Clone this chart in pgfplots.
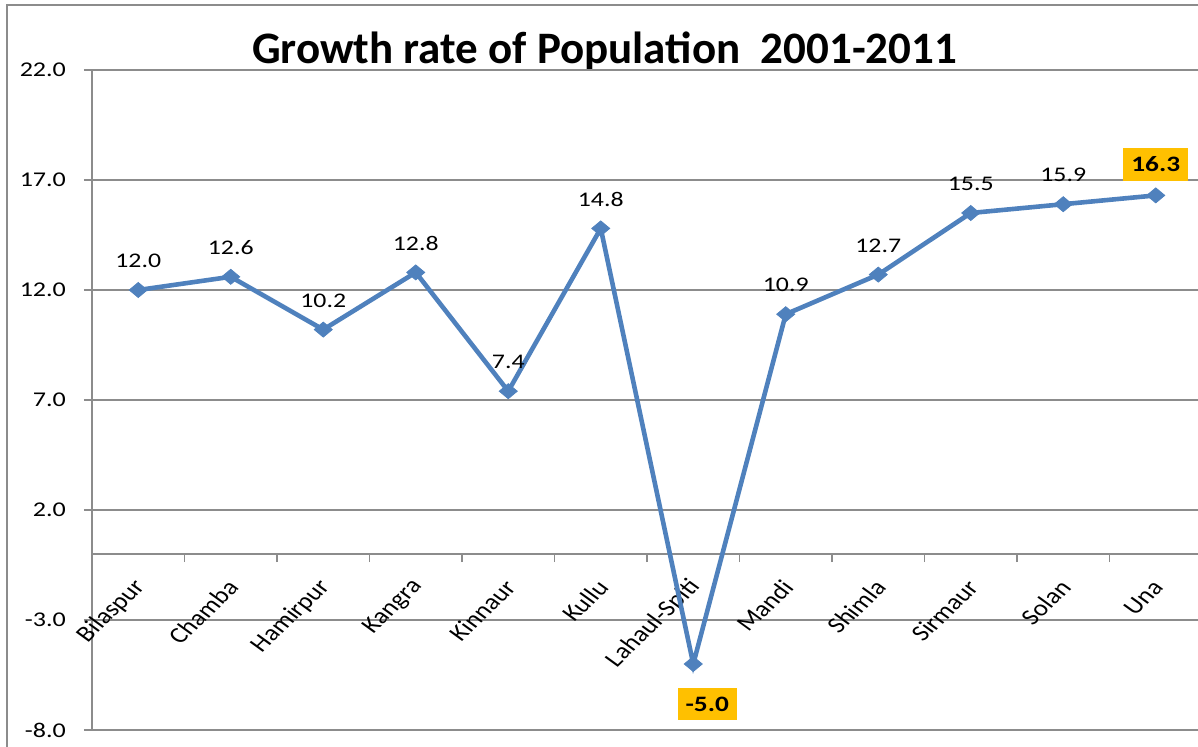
\documentclass[border=0pt]{standalone}
\usepackage{fontspec}
\usepackage{pgfplots}
\pgfplotsset{compat=1.18}
\usepackage{pgfplotstable}
\setmainfont{Carlito}
\newfontfamily\lblfont[FakeStretch=1.24]{Carlito}
\newfontfamily\catfont{Carlito}
\definecolor{lineblue}{HTML}{4F81BD}
\definecolor{boxorange}{HTML}{FFC000}
\definecolor{gridgray}{HTML}{8C8C8C}

% growth rate 2001-2011, districts in order
\pgfplotstableread{
x y
0 12.0
1 12.6
2 10.2
3 12.8
4 7.4
5 14.8
6 -5.0
7 10.9
8 12.7
9 15.5
10 15.9
11 16.3
}\growth

\begin{document}
\begin{tikzpicture}
\draw[gridgray, line width=1pt] (3.5pt,-5pt) -- (3.5pt,370.5pt) -- (605pt,370.5pt);
\node[font=\bfseries\fontsize{22.5}{26}\selectfont, anchor=base] at (302.25pt,341pt)
  {Growth rate of Population~~2001-2011};
\begin{axis}[
    at={(46pt,8pt)}, anchor=south west,
    scale only axis, width=555pt, height=330pt,
    xmin=-0.5, xmax=11.5, ymin=-8, ymax=22,
    axis x line*=middle, axis y line*=left,
    axis line style={gridgray, line width=0.75pt},
    xtick={0,...,11},
    xticklabels={Bilaspur,Chamba,Hamirpur,Kangra,Kinnaur,Kullu,Lahaul-Spiti,Mandi,Shimla,Sirmaur,Solan,Una},
    minor x tick num=1,
    major x tick style={draw=none},
    minor x tick style={gridgray, line width=0.75pt},
    ytick={-8,-3,...,22},
    ymajorgrids, grid style={gridgray, line width=0.75pt},
    tick align=outside,
    major tick length=4pt, minor tick length=4pt,
    y tick style={gridgray, line width=0.75pt},
    yticklabel style={font=\lblfont\fontsize{10.5}{12}\selectfont, xshift=-5.5pt,
      /pgf/number format/.cd, fixed, fixed zerofill, precision=1, assume math mode=true},
    xticklabel style={font=\catfont\fontsize{11.3}{12}\selectfont, inner sep=0pt,
      anchor=east, xshift=1.2pt, yshift=-10.5pt, xscale=1.2, rotate=49},
    clip=false,
]
\addplot[lineblue, line width=2.3pt, mark=diamond*, mark size=3.75pt,
  mark options={xscale=1.6, line width=0.4pt, fill=lineblue}] table {\growth};

\addplot[draw=none, nodes near coords={\pgfmathprintnumber[fixed,fixed zerofill,precision=1,assume math mode=true]{\pgfplotspointmeta}},
  nodes near coords style={font=\lblfont\fontsize{10.4}{12}\selectfont, anchor=center, yshift=14.5pt}]
  coordinates {(0,12.0)(1,12.6)(2,10.2)(3,12.8)(4,7.4)(5,14.8)(7,10.9)(8,12.7)(9,15.5)(10,15.9)};

\addplot[draw=none, nodes near coords={\pgfmathprintnumber[fixed,fixed zerofill,precision=1,assume math mode=true]{\pgfplotspointmeta}},
  nodes near coords style={font=\lblfont\bfseries\fontsize{11}{12}\selectfont, fill=boxorange,
    inner xsep=4pt, inner ysep=4.6pt, anchor=center, yshift=15.5pt}]
  coordinates {(11,16.3)};

\addplot[draw=none, nodes near coords={\pgfmathprintnumber[fixed,fixed zerofill,precision=1,assume math mode=true]{\pgfplotspointmeta}},
  nodes near coords style={font=\lblfont\bfseries\fontsize{11}{12}\selectfont, fill=boxorange,
    inner xsep=4pt, inner ysep=4.6pt, anchor=center, xshift=7pt, yshift=-20pt}]
  coordinates {(6,-5.0)};
\end{axis}
\pgfresetboundingbox
\useasboundingbox (0,0) rectangle (599pt,373pt);
\end{tikzpicture}
\end{document}
